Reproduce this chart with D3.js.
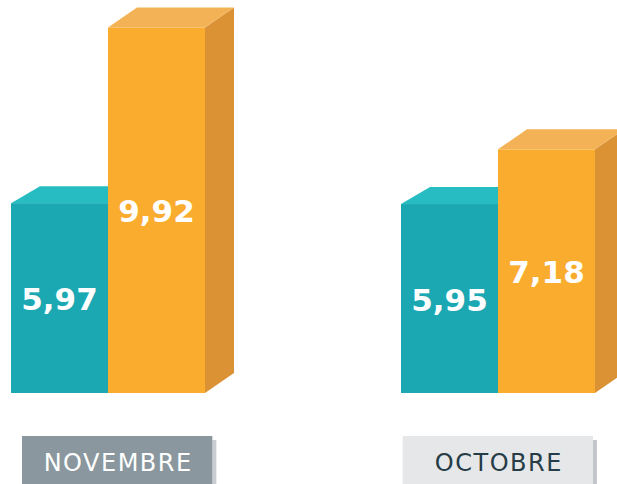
<!DOCTYPE html>
<html>
<head>
<meta charset="utf-8">
<script src="https://cdn.jsdelivr.net/npm/d3@7"></script>
<style>
    body { margin: 0; background: #fff; }
    #chart { width: 617px; height: 484px; }
</style>
</head>
<body>
<div id="chart"></div>
<script>
// data
const months = ["NOVEMBRE", "OCTOBRE"]
const series = ["teal", "orange"]
const tealValues = [5.97, 5.95]
const orangeValues = [9.92, 7.18]

// styles
const faceColors = {
    teal: {front: "#1CA8B3", top: "#26BCC2", side: "#178F98", dy: -17},
    orange: {front: "#FAAC2E", top: "#F4B257", side: "#DA9234", dy: -20}
}
const boxColors = {
    NOVEMBRE: {fill: "#8A979E", text: "#FFFFFF", shadow: "#C9CDD1"},
    OCTOBRE: {fill: "#E6E7E9", text: "#263C47", shadow: "#C3C6CA"}
}
const depthX = 29

const width = 617, height = 484
const baseline = 393

const svg = d3.select("#chart")
    .append("svg")
    .attr("width", width)
    .attr("height", height)

const x0 = d3.scaleBand()
    .domain(months)
    .range([11, 595])
    .paddingInner(0.5026)
    .paddingOuter(0)

const x1 = d3.scaleBand()
    .domain(series)
    .range([0, x0.bandwidth()])

// the boxes under the bars sit a little apart from the bar groups
const xLabel = d3.scaleBand()
    .domain(months)
    .range([22, 593])
    .paddingInner(0.5)

// the picture is not drawn to zero, fitted against the four bars
const y = d3.scaleLinear()
    .domain([1.7, 10])
    .range([baseline, 24])

const rows = []
months.forEach((m, i) => {
    rows.push({month: m, key: "teal", value: tealValues[i]})
    rows.push({month: m, key: "orange", value: orangeValues[i]})
})

const fmt = v => d3.format(".2f")(v).replace(".", ",")

const bars = svg.append("g").attr("class", "bars")
    .selectAll("g")
    .data(rows)
    .enter()
    .append("g")
    .attr("transform", d => "translate(" + (x0(d.month) + x1(d.key)) + ",0)")

bars.each(function(d) {
    const g = d3.select(this)
    const c = faceColors[d.key]
    const w = x1.bandwidth()
    const top = y(d.value)
    const dy = c.dy

    // side face
    g.append("path")
        .attr("d", `M${w},${top} L${w + depthX},${top + dy} L${w + depthX},${baseline + dy} L${w},${baseline} Z`)
        .attr("fill", c.side)

    // top face
    g.append("path")
        .attr("d", `M0,${top} L${depthX},${top + dy} L${w + depthX},${top + dy} L${w},${top} Z`)
        .attr("fill", c.top)

    // front face
    g.append("rect")
        .attr("x", 0)
        .attr("y", top)
        .attr("width", w)
        .attr("height", baseline - top)
        .attr("fill", c.front)

    g.append("text")
        .attr("x", w / 2)
        .attr("y", (top + baseline) / 2 + 12)
        .attr("text-anchor", "middle")
        .attr("fill", "#fff")
        .style("font-family", "'DejaVu Sans', sans-serif")
        .style("font-weight", "bold")
        .style("font-size", "31px")
        .text(fmt(d.value))
})

// month boxes
const boxW = xLabel.bandwidth()
const boxes = svg.append("g").attr("class", "labels")
    .selectAll("g")
    .data(months)
    .enter()
    .append("g")
    .attr("transform", d => "translate(" + xLabel(d) + ",436)")

boxes.append("rect")
    .attr("x", boxW)
    .attr("y", 4)
    .attr("width", 4)
    .attr("height", 50)
    .attr("fill", d => boxColors[d].shadow)

boxes.append("rect")
    .attr("width", boxW)
    .attr("height", 50)
    .attr("fill", d => boxColors[d].fill)

boxes.append("text")
    .attr("x", boxW / 2 + 1)
    .attr("y", 35)
    .attr("text-anchor", "middle")
    .attr("fill", d => boxColors[d].text)
    .style("font-family", "'DejaVu Sans', sans-serif")
    .style("font-size", "24px")
    .style("letter-spacing", "1.5px")
    .text(d => d)
</script>
</body>
</html>
